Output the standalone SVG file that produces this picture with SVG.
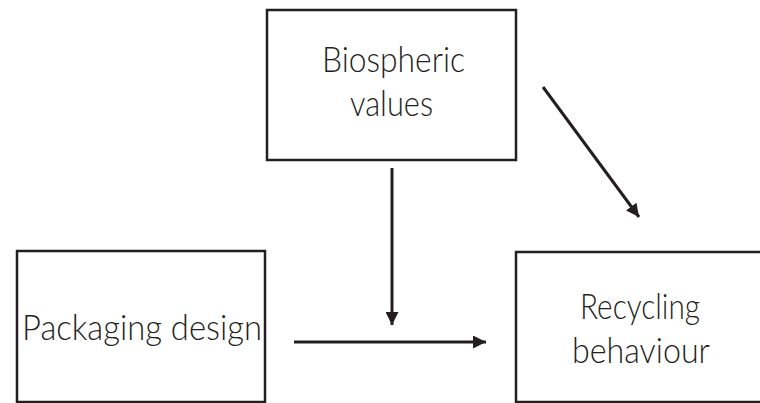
<svg xmlns="http://www.w3.org/2000/svg" width="760" height="403" viewBox="0 0 760 403">
  <defs>
    <style>
      .box { fill: #ffffff; stroke: #231f20; stroke-width: 2.5; }
      .lbl { font-family: "Lato", "Liberation Sans", sans-serif; font-weight: 300; font-size: 34.5px; fill: #231f20; }
      .edge { stroke: #231f20; stroke-width: 3; fill: none; }
    </style>
    <marker id="arrow" viewBox="0 0 10 10" refX="10" refY="5" markerUnits="userSpaceOnUse" markerWidth="16" markerHeight="13" orient="auto">
      <path d="M0,0 L10,5 L0,10 Z" fill="#231f20"/>
    </marker>
  </defs>
  <rect width="760" height="403" fill="#ffffff"/>
  <g id="biospheric-values">
    <rect class="box" x="267" y="10" width="249" height="150"/>
    <text class="lbl" x="322" y="72" textLength="143" lengthAdjust="spacingAndGlyphs">Biospheric</text>
    <text class="lbl" x="350" y="116" textLength="83" lengthAdjust="spacingAndGlyphs">values</text>
  </g>
  <g id="packaging-design">
    <rect class="box" x="17" y="251" width="248" height="151"/>
    <text class="lbl" x="22" y="340" textLength="240" lengthAdjust="spacingAndGlyphs">Packaging design</text>
  </g>
  <g id="recycling-behaviour">
    <rect class="box" x="516" y="252" width="260" height="150"/>
    <text class="lbl" x="580" y="319" textLength="120" lengthAdjust="spacingAndGlyphs">Recycling</text>
    <text class="lbl" x="572" y="363" textLength="138" lengthAdjust="spacingAndGlyphs">behaviour</text>
  </g>
  <g id="connectors">
    <line class="edge" x1="392" y1="168" x2="392" y2="325" marker-end="url(#arrow)"/>
    <line class="edge" x1="294" y1="342" x2="486" y2="342" marker-end="url(#arrow)"/>
    <line class="edge" x1="543" y1="87" x2="639" y2="217" marker-end="url(#arrow)"/>
  </g>
</svg>
